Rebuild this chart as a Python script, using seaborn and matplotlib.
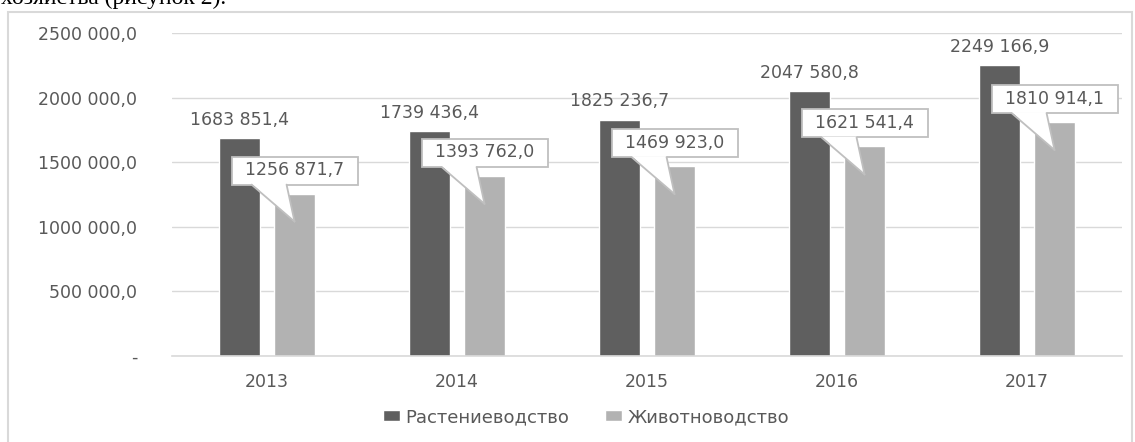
import numpy as np
import pandas as pd
import seaborn as sns
import matplotlib.pyplot as plt
import matplotlib.transforms as mtransforms
from matplotlib.patches import Rectangle, Polygon
from matplotlib.lines import Line2D

years = ["2013", "2014", "2015", "2016", "2017"]
crops = [1683851.4, 1739436.4, 1825236.7, 2047580.8, 2249166.9]
livestock = [1256871.7, 1393762.0, 1469923.0, 1621541.4, 1810914.1]
series_names = ["Растениеводство", "Животноводство"]
yticks = [0, 500000, 1000000, 1500000, 2000000, 2500000]


def fmt(v):
    # "1683 851,4" style: only the last thousands group is split off
    if v == 0:
        return "-"
    s = f"{v:.1f}"
    ip, dp = s.split(".")
    i = int(ip)
    if i >= 1000:
        return f"{i // 1000} {i % 1000:03d},{dp}"
    return f"{i},{dp}"


df = pd.DataFrame({
    "year": years * 2,
    "value": crops + livestock,
    "series": [series_names[0]] * 5 + [series_names[1]] * 5,
})

sns.set_style("white")
plt.rcParams["font.family"] = ["DejaVu Sans"]
txt = "#595959"
grid = "#d9d9d9"
edge = "#bfbfbf"

W, H = 1135, 442
fig = plt.figure(figsize=(W / 100, H / 100), dpi=100)
ax = fig.add_axes([172 / W, 1 - 356 / H, (1122 - 172) / W, (356 - 33) / H])

sns.barplot(data=df, x="year", y="value", hue="series", order=years,
            hue_order=series_names, palette=["#5f5f5f", "#b2b2b2"],
            width=0.58, gap=0.24, ax=ax, saturation=1, legend=True)

ax.set_ylim(0, 2500000)
ax.set_xlim(-0.5, 4.5)
ax.set_yticks(yticks)
ax.set_yticklabels([fmt(v) for v in yticks])
ax.yaxis.grid(True, color=grid, lw=1)
ax.set_axisbelow(True)
for s in ["top", "right", "left"]:
    ax.spines[s].set_visible(False)
ax.spines["bottom"].set_color(grid)
ax.spines["bottom"].set_linewidth(1.2)
ax.tick_params(axis="y", length=0, pad=25, labelsize=12.5, labelcolor=txt)
ax.tick_params(axis="x", length=0, pad=12, labelsize=12.5, labelcolor=txt)
ax.set_xlabel("")
ax.set_ylabel("")

# labels above dark bars
ax.bar_label(ax.containers[0], labels=[fmt(v) for v in crops],
             padding=7, fontsize=12.5, color=txt)

# callout labels for light bars (shape in pixels relative to the bar top)
for bar, v in zip(ax.containers[1], livestock):
    xc = bar.get_x() + bar.get_width() / 2
    tr = fig.dpi_scale_trans + mtransforms.ScaledTranslation(xc, v, ax.transData)
    p = 1 / 100  # one pixel in inches
    box = Rectangle((-63 * p, 9 * p), 126 * p, 28 * p, transform=tr,
                    fc="white", ec=edge, lw=1.3, zorder=5, clip_on=False)
    ax.add_artist(box)
    tri = Polygon([(-43 * p, 10 * p), (-8 * p, 10 * p), (0, -28 * p)], closed=True,
                  transform=tr, fc="white", ec="none", zorder=6, clip_on=False)
    ax.add_artist(tri)
    for xs in (-43, -8):
        ax.add_artist(Line2D([xs * p, 0], [9 * p, -28 * p], transform=tr,
                             color=edge, lw=1.3, zorder=7, clip_on=False))
    ax.text(0, 23.5 * p, fmt(v), transform=tr, ha="center", va="center",
            fontsize=12.5, color=txt, zorder=8)

handles, labels = ax.get_legend_handles_labels()
ax.get_legend().remove()
fig.legend(handles, labels, loc="center", bbox_to_anchor=(586 / W, 1 - 417 / H),
           ncol=2, frameon=False, fontsize=13, labelcolor=txt,
           handlelength=0.95, handleheight=0.55, handletextpad=0.3, columnspacing=2.0)

# chart frame and the cut-off line of document text above it
fig.patches.append(Rectangle((8 / W, -0.1), (1132 - 8) / W, 1 - 12 / H + 0.1,
                             transform=fig.transFigure, fill=False, ec=grid, lw=1.5))
fig.text(1 / W, 1 - 4 / H, "хозяйства (рисунок 2).", family="Liberation Serif",
         fontsize=17, va="baseline", ha="left", color="black")

fig.savefig("out.png", dpi=100)
